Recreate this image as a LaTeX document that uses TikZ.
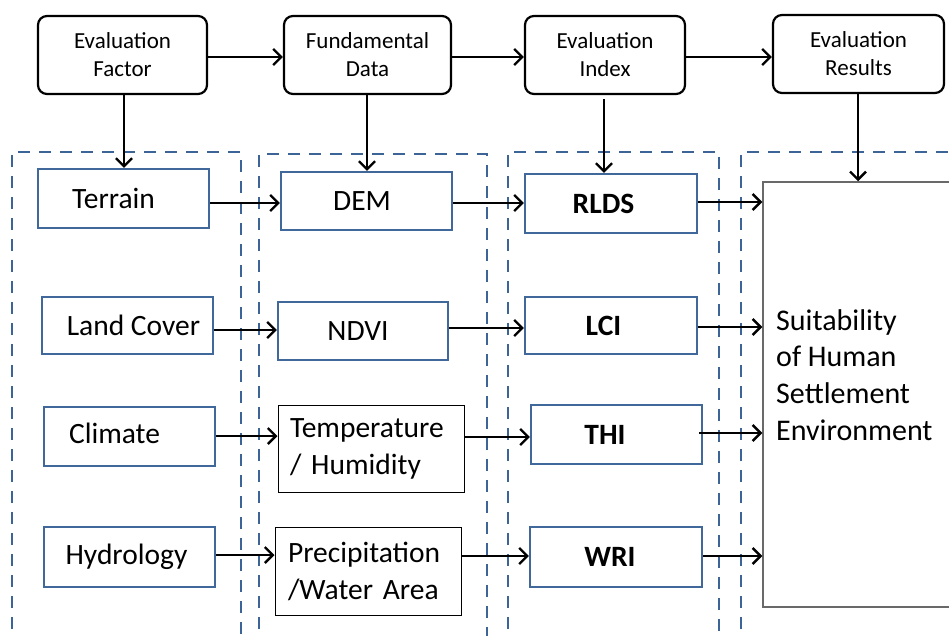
\documentclass[tikz,border=0pt]{standalone}
\usepackage{fontspec}
\setmainfont{Carlito}
\usetikzlibrary{arrows.meta}
\definecolor{boxblue}{RGB}{65,104,154}
\definecolor{dashblue}{RGB}{61,100,150}
\definecolor{resgray}{RGB}{105,105,105}
\tikzset{
  topbox/.style={draw=black, line width=2.2pt, rounded corners=9pt, align=center,
     font=\fontsize{23}{28}\selectfont, inner sep=0pt},
  bluebox/.style={draw=boxblue, line width=2.2pt, inner sep=0pt,
     font=\fontsize{29.5}{36}\selectfont},
  boldbox/.style={bluebox, font=\fontsize{29.5}{36}\selectfont\bfseries},
  thinbox/.style={draw=black, line width=1pt, inner sep=0pt, align=left,
     font=\fontsize{29.5}{37}\selectfont},
  colframe/.style={draw=dashblue, line width=2.6pt, dash pattern=on 12pt off 9pt},
  arr/.style={draw=black, line width=2.4pt, -{Straight Barb[length=8pt,width=16pt,line width=2.4pt]}},
}
\begin{document}
\begin{tikzpicture}[x=1pt,y=-1pt]
\useasboundingbox (0,0) rectangle (949,635);
\clip (0,0) rectangle (949,635);

% dashed column frames
\draw[colframe] (12,650) -- (12,152) -- (241,152) -- (241,650);
\draw[colframe] (259,650) -- (259,154) -- (487,154) -- (487,650);
\draw[colframe] (508,650) -- (508,152) -- (719,152) -- (719,650);
\draw[colframe] (741,650) -- (741,152) -- (960,152);

% top boxes
\node[topbox, minimum width=169pt, minimum height=78pt] (ef) at (122.5,55) {Evaluation\\Factor};
\node[topbox, minimum width=167pt, minimum height=78pt] (fd) at (367.5,55) {Fundamental\\Data};
\node[topbox, minimum width=160pt, minimum height=78pt] (ei) at (605,55) {Evaluation\\Index};
\node[topbox, minimum width=171pt, minimum height=78pt] (er) at (858.5,54) {Evaluation\\Results};

% column 1
\node[bluebox, minimum width=171pt, minimum height=59pt] (terrain) at (123.5,198.5) {\raisebox{-3pt}{Terrain}\kern20pt};
\node[bluebox, minimum width=171pt, minimum height=57pt] (land) at (127.5,325.5) {\kern12pt Land Cover};
\node[bluebox, minimum width=171pt, minimum height=59pt] (climate) at (129.5,436.5) {\raisebox{6pt}{Climate}\kern30pt};
\node[bluebox, minimum width=171pt, minimum height=60pt] (hydro) at (129.5,557) {Hydrology\kern6pt};

% column 2
\node[bluebox, minimum width=171pt, minimum height=58pt] (dem) at (366.5,201) {DEM\kern9pt};
\node[bluebox, minimum width=170pt, minimum height=58pt] (ndvi) at (363,331) {NDVI\kern10pt};
\node[thinbox, minimum width=186pt, minimum height=87pt, text width=162pt, inner xsep=12pt] (temp) at (371,448.5) {Temperature\\/ Humidity};
\node[thinbox, minimum width=186pt, minimum height=88pt, text width=160pt, inner xsep=13pt] (prec) at (368,571) {Precipitation\\/Water Area};

% column 3
\node[boldbox, minimum width=172pt, minimum height=59pt] (rlds) at (611,203.5) {\raisebox{-3pt}{RLDS}\kern15pt};
\node[boldbox, minimum width=172pt, minimum height=57pt] (lci) at (611,325.5) {LCI\kern15pt};
\node[boldbox, minimum width=171pt, minimum height=59pt] (thi) at (616.5,434.5) {THI\kern23pt};
\node[boldbox, minimum width=172pt, minimum height=60pt] (wri) at (616,557) {WRI\kern12pt};

% result box
\node[draw=resgray, line width=1.5pt, minimum width=200pt, minimum height=425pt, inner sep=0pt] (res) at (863,394.5) {};
\node[anchor=north west, align=left, inner sep=0pt, font=\fontsize{30}{36.7}\selectfont] (restext) at (776,309) {Suitability\\of Human\\Settlement\\Environment};

% top arrows
\draw[arr] (ef.east |- 0,57) -- (fd.west |- 0,57);
\draw[arr] (fd.east |- 0,57) -- (ei.west |- 0,57);
\draw[arr] (ei.east |- 0,57) -- (er.west |- 0,57);

% vertical arrows
\draw[arr] (ef.south -| 124,0) -- (terrain.north -| 124,0);
\draw[arr] (fd.south -| 367,0) -- (dem.north -| 367,0);
\draw[arr] (604,99) -- (rlds.north -| 604,0);
\draw[arr] (er.south -| 858,0) -- (res.north -| 858,0);

% row arrows
\draw[arr] (terrain.east |- 0,203) -- (dem.west |- 0,203);
\draw[arr] (dem.east |- 0,203) -- (rlds.west |- 0,203);
\draw[arr] (rlds.east |- 0,202) -- (res.west |- 0,202);

\draw[arr] (land.east |- 0,330) -- (ndvi.west |- 0,330);
\draw[arr] (ndvi.east |- 0,328) -- (lci.west |- 0,328);
\draw[arr] (lci.east |- 0,327) -- (res.west |- 0,327);

\draw[arr] (climate.east |- 0,436) -- (temp.west |- 0,436);
\draw[arr] (temp.east |- 0,437) -- (thi.west |- 0,437);
\draw[arr] ([xshift=-4pt]thi.east |- 0,433) -- (res.west |- 0,433);

\draw[arr] (hydro.east |- 0,555) -- (prec.west |- 0,555);
\draw[arr] (prec.east |- 0,556) -- (wri.west |- 0,556);
\draw[arr] (wri.east |- 0,556) -- (res.west |- 0,556);
\end{tikzpicture}
\end{document}
